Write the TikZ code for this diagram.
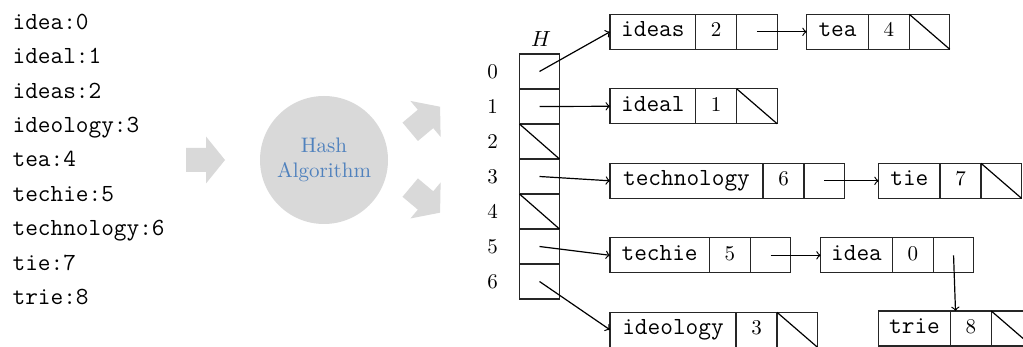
\documentclass[tikz,border=0pt]{standalone}
\usepackage{fontspec}
\usepackage{xcolor}
\usepackage{tikz}
\definecolor{hashgray}{RGB}{217,217,217}
\definecolor{hashblue}{RGB}{79,129,189}

\begin{document}
\begin{tikzpicture}[
	x=0.5pt, y=-0.5pt,
	line width=0.6pt,
	>=to
]
\tikzset{
    cell/.style = {rectangle, draw=black!85, anchor=west, inner sep=0pt, outer sep=0pt, minimum height=17.5pt, text height=1.6ex, text depth=0.4ex},
    namecell/.style = {cell, font=\fontsize{12.3}{14}\selectfont\ttfamily},
    valcell/.style = {cell, minimum width=20.5pt, font=\fontsize{10.5}{12}\selectfont},
    ptrcell/.style = {cell, minimum width=20.25pt},
    hcell/.style = {rectangle, draw=black!85, outer sep=0pt, inner sep=0pt, minimum width=20pt, minimum height=17.5pt},
    word/.style = {anchor=base west, inner sep=0pt, font=\fontsize{12.3}{14}\selectfont\ttfamily},
    idx/.style = {inner sep=0pt, font=\fontsize{10.5}{12}\selectfont}
}
\clip (0,0) rectangle (1023,347);
\foreach \w/\n in {idea/0,ideal/1,ideas/2,ideology/3,tea/4,techie/5,technology/6,tie/7,trie/8}
    \node[word] (w\n) at (12,29.3+34.4*\n) {\w:\n};
\foreach \px/\py/\ang in {186/160/0, 410.2/131.8/40, 410.2/187.6/-40}
    \fill[hashgray, shift={(\px,\py)}, rotate=\ang] (0,-12) -- (20,-12) -- (20,-23.5) -- (39,0) -- (20,23.5) -- (20,12) -- (0,12) -- cycle;
\node[circle, fill=hashgray, minimum size=64pt, inner sep=0pt, align=center, text=hashblue, font=\fontsize{10.5}{12.5}\selectfont] (hash) at (324,160) {Hash\\Algorithm};
\node[idx] (Hlab) at (541,39) {$H$};
\foreach \i in {0,...,6} {
    \node[hcell] (h\i) at (539.5,71.5+35*\i) {};
    \node[idx] (n\i) at (492.5,71.5+35*\i) {\i};
}
\draw (h2.north west) -- (h2.south east);
\draw (h4.north west) -- (h4.south east);
\node[namecell,minimum width=42.85pt] (ideas) at (610,31.8) {ideas};
\node[valcell] (ideasv) at (ideas.east) {2};
\node[ptrcell] (ideasp) at (ideasv.east) {};
\node[namecell,minimum width=30.8pt] (tea) at (806.7,31.8) {tea};
\node[valcell] (teav) at (tea.east) {4};
\node[ptrcell] (teap) at (teav.east) {};
\node[namecell,minimum width=42.85pt] (ideal) at (610,106.3) {ideal};
\node[valcell] (idealv) at (ideal.east) {1};
\node[ptrcell] (idealp) at (idealv.east) {};
\node[namecell,minimum width=76.5pt] (technology) at (610,180.8) {technology};
\node[valcell] (technologyv) at (technology.east) {6};
\node[ptrcell] (technologyp) at (technologyv.east) {};
\node[namecell,minimum width=30.65pt] (tie) at (878.7,180.8) {tie};
\node[valcell] (tiev) at (tie.east) {7};
\node[ptrcell] (tiep) at (tiev.east) {};
\node[namecell,minimum width=49.65pt] (techie) at (610,255.3) {techie};
\node[valcell] (techiev) at (techie.east) {5};
\node[ptrcell] (techiep) at (techiev.east) {};
\node[namecell,minimum width=35.8pt] (idea) at (820.7,255.3) {idea};
\node[valcell] (ideav) at (idea.east) {0};
\node[ptrcell] (ideap) at (ideav.east) {};
\node[namecell,minimum width=63pt] (ideology) at (610,329.8) {ideology};
\node[valcell] (ideologyv) at (ideology.east) {3};
\node[ptrcell] (ideologyp) at (ideologyv.east) {};
\node[namecell,minimum width=35.8pt] (trie) at (878.7,328.5) {trie};
\node[valcell] (triev) at (trie.east) {8};
\node[ptrcell] (triep) at (triev.east) {};
\foreach \p in {teap,idealp,tiep,ideologyp,triep}
    \draw (\p.north west) -- (\p.south east);
\draw[->] (h0.center) -- (ideas.west);
\draw[->] (h1.center) -- (ideal.west);
\draw[->] (h3.center) -- (technology.west);
\draw[->] (h5.center) -- (techie.west);
\draw[->] (h6.center) -- (ideology.west);
\draw[->] (ideasp.center) -- (tea.west);
\draw[->] (technologyp.center) -- (tie.west);
\draw[->] (techiep.center) -- (idea.west);
\draw[->] (ideap.center) -- ([xshift=2.6pt]triev.north west);
\end{tikzpicture}
\end{document}
